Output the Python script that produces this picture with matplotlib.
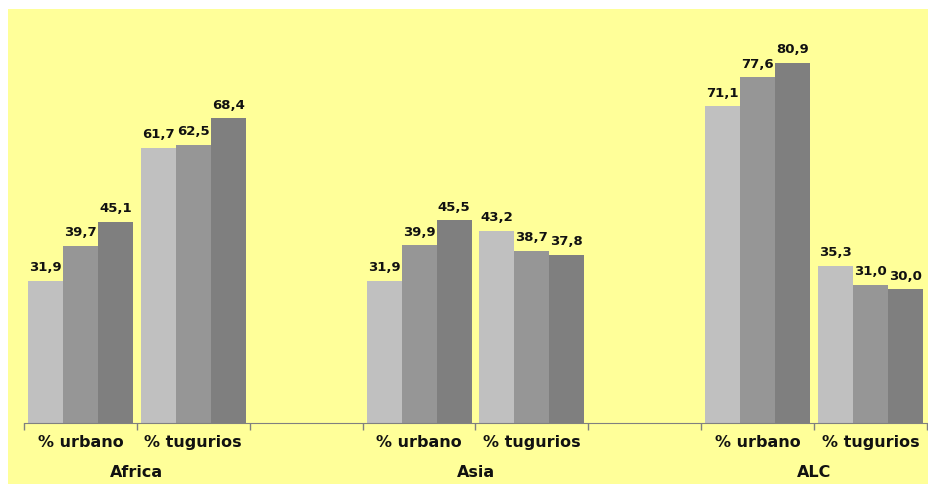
import matplotlib
matplotlib.use("Agg")
import matplotlib.pyplot as plt
from matplotlib.patches import Rectangle
import numpy as np

plt.rcParams['font.family'] = ['DejaVu Sans']

regions = ["Africa", "Asia", "ALC"]
indicators = ["% urbano", "% tugurios"]
# three bars per indicator (light, medium, dark)
africa = [[31.9, 39.7, 45.1], [61.7, 62.5, 68.4]]
asia = [[31.9, 39.9, 45.5], [43.2, 38.7, 37.8]]
alc = [[71.1, 77.6, 80.9], [35.3, 31.0, 30.0]]
values = [africa, asia, alc]
bar_colors = ["#C0C0C0", "#969696", "#7F7F7F"]

W, H = 929, 486
fig = plt.figure(figsize=(W / 100, H / 100), dpi=100)
fig.patch.set_facecolor("white")
fig.patches.append(Rectangle((8 / W, 2 / H), (W - 8) / W, (H - 11) / H,
                             transform=fig.transFigure, facecolor="#FFFF99",
                             edgecolor="none", zorder=-10))

ymax = 90
base_px = 423
ppu = 4.455
top_px = base_px - ymax * ppu
x0_px, x1_px = 24, 927
ax = fig.add_axes([x0_px / W, (H - base_px) / H, (x1_px - x0_px) / W, (base_px - top_px) / H])
ax.set_facecolor("none")

nslots = 8
bw = 0.31
for r, reg in enumerate(regions):
    for i, ind in enumerate(indicators):
        slot = r * 3 + i
        center = slot + 0.5
        for k in range(3):
            x = center + (k - 1) * bw
            v = values[r][i][k]
            ax.bar(x, v, width=bw, color=bar_colors[k], edgecolor="none")
            ax.text(x, v + 1.5, f"{v:.1f}".replace(".", ","), ha="center", va="bottom",
                    fontsize=9.5, fontweight="bold", color="#111111")
        ax.text(center, -2.6, ind, ha="center", va="top", fontsize=11.5,
                fontweight="bold", color="#111111")
    ax.text(r * 3 + 1, -9.4, reg, ha="center", va="top", fontsize=11.5,
            fontweight="bold", color="#111111")

ax.set_xlim(0, nslots)
ax.set_ylim(0, ymax)
ax.set_xticks(np.arange(0, nslots + 1))
ax.set_xticklabels([])
ax.tick_params(axis="x", direction="out", length=5, color="#808080", width=1)
ax.set_yticks([])
for s in ["top", "right", "left"]:
    ax.spines[s].set_visible(False)
ax.spines["bottom"].set_color("#808080")

fig.savefig("out.png", dpi=100, facecolor=fig.get_facecolor())
